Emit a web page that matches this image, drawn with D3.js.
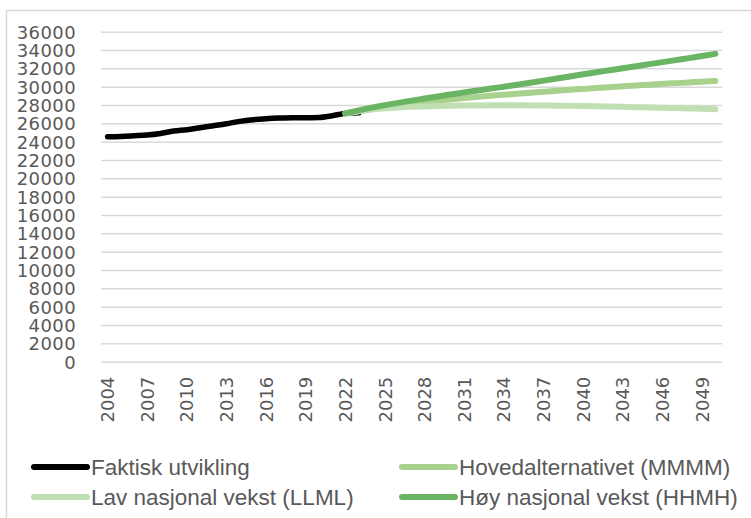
<!DOCTYPE html>
<html>
<head>
<meta charset="utf-8">
<script src="https://cdn.jsdelivr.net/npm/d3@7"></script>
<style>
  html, body { margin: 0; padding: 0; background: #fff; }
  svg { display: block; }
</style>
</head>
<body>
<svg id="chart"></svg>
<script>
// Data
const years = d3.range(2004, 2051);
const tickYears = [2004, 2007, 2010, 2013, 2016, 2019, 2022, 2025, 2028, 2031, 2034, 2037, 2040, 2043, 2046, 2049];
const yTicks = d3.range(0, 36001, 2000);

const faktiskYears = d3.range(2004, 2024);
const faktisk = [24550, 24580, 24650, 24730, 24900, 25160, 25310, 25530, 25740, 25960,
                 26220, 26400, 26510, 26580, 26620, 26600, 26640, 26840, 27090, 27150];

const prognoseYears = d3.range(2022, 2051);
const mmmm = [27090, 27330, 27560, 27770, 27960, 28140, 28310, 28470, 28620, 28760,
              28890, 29010, 29120, 29230, 29340, 29450, 29560, 29660, 29760, 29860,
              29950, 30040, 30130, 30220, 30310, 30390, 30470, 30550, 30620];
const llml = [27090, 27330, 27510, 27640, 27730, 27800, 27850, 27890, 27920, 27940,
              27960, 27970, 27970, 27970, 27960, 27950, 27930, 27910, 27890, 27860,
              27830, 27800, 27770, 27740, 27700, 27670, 27630, 27590, 27550];
const hhmh = [27090, 27420, 27720, 27990, 28240, 28480, 28710, 28940, 29160, 29380,
              29590, 29800, 30000, 30210, 30430, 30660, 30890, 31120, 31350, 31580,
              31800, 32020, 32240, 32460, 32680, 32900, 33120, 33350, 33580];

const series = [
    { name: 'Faktisk utvikling', xs: faktiskYears, values: faktisk, color: '#000000', width: 5.5 },
    { name: 'Hovedalternativet (MMMM)', xs: prognoseYears, values: mmmm, color: '#a9d18e', width: 6 },
    { name: 'Lav nasjonal vekst (LLML)', xs: prognoseYears, values: llml, color: '#c0dfb2', width: 6 },
    { name: 'Høy nasjonal vekst (HHMH)', xs: prognoseYears, values: hhmh, color: '#6ab563', width: 6 },
];

const width = 751, height = 518;
const plot = { left: 101, right: 722, top: 31.7, bottom: 361.7 };
const textColor = '#595959';
const gridColor = '#d9d9d9';

const svg = d3.select('#chart').attr('width', width).attr('height', height);

// Chart frame (only top and left edges fall inside the picture)
svg.append('path')
    .attr('d', `M6.5,${height} V10.5 H${width}`)
    .attr('fill', 'none')
    .attr('stroke', gridColor)
    .attr('stroke-width', 1.5);

const x = d3.scaleBand().domain(years).range([plot.left, plot.right]).padding(0);
const xc = d => x(d) + x.bandwidth() / 2;
const y = d3.scaleLinear().domain([0, 36000]).range([plot.bottom, plot.top]);

// Gridlines + y labels
const yAxis = d3.axisLeft(y).tickValues(yTicks).tickSize(-(plot.right - plot.left)).tickPadding(25).tickFormat(d3.format('d'));
const gy = svg.append('g').attr('transform', `translate(${plot.left},0)`).call(yAxis);
gy.select('.domain').remove();
gy.selectAll('.tick line').attr('stroke', gridColor).attr('stroke-width', 1.5);
gy.selectAll('.tick text')
    .attr('fill', textColor)
    .attr('font-family', 'DejaVu Sans, sans-serif')
    .attr('font-size', 18)
    .attr('letter-spacing', 0.4)
    .attr('dy', '0.36em');

// X labels, rotated
const xAxis = d3.axisBottom(x).tickValues(tickYears).tickSize(0).tickPadding(0);
const gx = svg.append('g').attr('transform', `translate(0,${plot.bottom})`).call(xAxis);
gx.select('.domain').remove();
gx.selectAll('.tick text')
    .attr('fill', textColor)
    .attr('font-family', 'DejaVu Sans, sans-serif')
    .attr('font-size', 18)
    .attr('text-anchor', 'end')
    .attr('transform', 'rotate(-90)')
    .attr('x', -15)
    .attr('y', 0)
    .attr('dy', '0.36em');

// Lines
const line = d3.line()
    .x(d => xc(d[0]))
    .y(d => y(d[1]))
    .curve(d3.curveMonotoneX);

svg.append('g')
    .selectAll('path')
    .data(series)
    .join('path')
    .attr('d', s => line(d3.zip(s.xs, s.values)))
    .attr('fill', 'none')
    .attr('stroke', s => s.color)
    .attr('stroke-width', s => s.width)
    .attr('stroke-linecap', 'round')
    .attr('stroke-linejoin', 'round');

// Legend (two columns, two rows)
const legendPos = [
    { x: 32, y: 467 },
    { x: 400, y: 467 },
    { x: 32, y: 497 },
    { x: 400, y: 497 },
];
const legend = svg.append('g')
    .selectAll('g')
    .data(series)
    .join('g')
    .attr('transform', (d, i) => `translate(${legendPos[i].x},${legendPos[i].y})`);

legend.append('line')
    .attr('x1', 2).attr('x2', 55)
    .attr('stroke', d => d.color)
    .attr('stroke-width', 6)
    .attr('stroke-linecap', 'round');

legend.append('text')
    .attr('x', 59)
    .attr('dy', '0.36em')
    .attr('fill', textColor)
    .attr('font-family', 'Liberation Sans, Arial, sans-serif')
    .attr('font-size', 22.5)
    .text(d => d.name);
</script>
</body>
</html>
